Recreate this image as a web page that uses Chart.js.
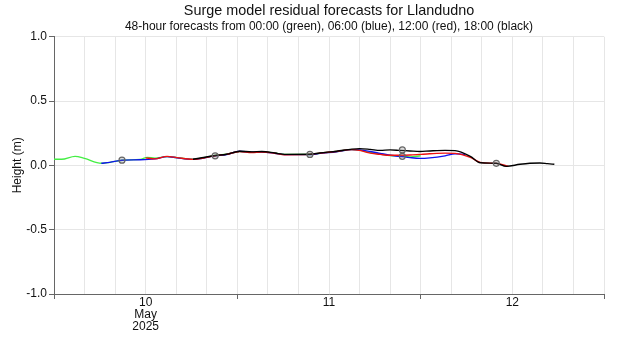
<!DOCTYPE html>
<html>
<head>
<meta charset="utf-8">
<script src="https://cdn.jsdelivr.net/npm/chart.js@4/dist/chart.umd.min.js"></script>
<style>
  html, body { margin: 0; padding: 0; background: #fff; }
  #wrap { width: 620px; height: 350px; }
</style>
</head>
<body>
<div id="wrap"><canvas id="surgeChart" width="620" height="350"></canvas></div>
<script>
// horas desde 10 May 2025 00:00, residual em metros
const greenHours = [0, 1, 2.75, 4, 6.2, 7.3, 8.9, 11.3, 12.2, 13.2, 14.8, 16.1, 18.2, 21.1, 22.6, 24.3, 25.9, 27.2, 28.9, 30.2, 33.5, 34.8, 37, 39, 40, 41.4, 42.7, 44, 45.3, 46.6, 48];
const greenValues = [0.047, 0.047, 0.07, 0.054, 0.016, 0.023, 0.04, 0.046, 0.062, 0.055, 0.068, 0.06, 0.048, 0.076, 0.086, 0.108, 0.104, 0.106, 0.096, 0.085, 0.084, 0.094, 0.108, 0.122, 0.118, 0.1, 0.088, 0.076, 0.072, 0.066, 0.074];

const blueHours = [6.2, 7.3, 8.9, 11.3, 13.2, 14.8, 16.1, 18.2, 21.1, 22.6, 24.3, 25.9, 27.2, 28.9, 30.2, 33.5, 34.8, 37, 39, 40, 41.4, 42.7, 44, 45.3, 46.6, 47.9, 49.2, 51.2, 52.5, 53.8];
const blueValues = [0.016, 0.023, 0.04, 0.043, 0.05, 0.068, 0.058, 0.046, 0.074, 0.084, 0.11, 0.102, 0.104, 0.094, 0.083, 0.083, 0.093, 0.106, 0.122, 0.12, 0.108, 0.093, 0.078, 0.07, 0.06, 0.054, 0.058, 0.074, 0.09, 0.085];

const redHours = [12, 13.2, 14.8, 16.1, 18.2, 21.1, 22.6, 24.3, 25.9, 27.2, 28.9, 30.2, 33.5, 34.8, 37, 39, 40, 41.4, 42.7, 44, 45.3, 46.6, 47.9, 49.2, 51.2, 52.5, 54.5, 55.8, 57.9, 59.5];
const redValues = [0.058, 0.05, 0.07, 0.06, 0.046, 0.075, 0.085, 0.108, 0.1, 0.104, 0.094, 0.082, 0.085, 0.095, 0.108, 0.122, 0.116, 0.095, 0.085, 0.078, 0.078, 0.08, 0.085, 0.09, 0.095, 0.093, 0.062, 0.023, 0.015, -0.008];

const blackHours = [18.2, 21.1, 22.6, 24.3, 25.9, 27.2, 28.9, 30.2, 33.5, 34.8, 37, 39, 40, 41.4, 42.7, 44, 45.3, 46.6, 47.9, 49.2, 51.2, 52.5, 54.5, 55.8, 57.9, 59.2, 61, 62.3, 63.6, 64.6, 65.5];
const blackValues = [0.047, 0.076, 0.086, 0.11, 0.105, 0.108, 0.096, 0.085, 0.086, 0.096, 0.11, 0.126, 0.13, 0.124, 0.116, 0.12, 0.116, 0.112, 0.108, 0.112, 0.116, 0.114, 0.07, 0.02, 0.016, -0.008, 0.008, 0.016, 0.018, 0.013, 0.008];

// marcadores circulares (preia-mar)
const markerHours = [8.9, 21.1, 33.5, 45.6, 45.6, 57.9];
const markerValues = [0.04, 0.074, 0.085, 0.12, 0.07, 0.016];

const dayTicks = [12, 36, 60];
const dayLabels = [['10', 'May', '2025'], ['11'], ['12']];
const yTicks = [-1, -0.5, 0, 0.5, 1];

const toPoints = (hs, vs) => hs.map((h, i) => ({ x: h, y: vs[i] }));

function serie(label, hs, vs, color) {
    return {
        label, data: toPoints(hs, vs), borderColor: color, backgroundColor: color,
        borderWidth: 1.4, pointRadius: 0, tension: 0.4, cubicInterpolationMode: 'monotone'
    };
}

const ctx = document.getElementById('surgeChart').getContext('2d');
new Chart(ctx, {
    type: 'line',
    data: {
        datasets: [
            {
                label: 'markers', data: toPoints(markerHours, markerValues), showLine: false,
                pointRadius: 3, pointBorderWidth: 1.2, pointBorderColor: '#666', pointBackgroundColor: 'rgba(120,120,120,0.25)', order: 0
            },
            Object.assign(serie('00:00', greenHours, greenValues, '#44ee44'), { order: 4 }),
            Object.assign(serie('06:00', blueHours, blueValues, '#1010ee'), { order: 3 }),
            Object.assign(serie('12:00', redHours, redValues, '#ee1010'), { order: 2 }),
            Object.assign(serie('18:00', blackHours, blackValues, '#000000'), { order: 1 })
        ]
    },
    options: {
        responsive: false,
        animation: false,
        layout: { padding: { right: 16, top: 2 } },
        plugins: {
            legend: { display: false },
            tooltip: { enabled: false },
            title: {
                display: true, fullSize: false, text: 'Surge model residual forecasts for Llandudno',
                color: '#111', font: { family: 'Liberation Sans, Arial', size: 14.4, weight: 'normal' },
                padding: { top: 0, bottom: 0 }
            },
            subtitle: {
                display: true, fullSize: false,
                text: '48-hour forecasts from 00:00 (green), 06:00 (blue), 12:00 (red), 18:00 (black)',
                color: '#111', font: { family: 'Liberation Sans, Arial', size: 12 },
                padding: { top: 0, bottom: 3 }
            }
        },
        scales: {
            x: {
                type: 'linear', min: 0, max: 72,
                afterBuildTicks: s => { s.ticks = []; for (let h = 0; h <= 72; h += 4) s.ticks.push({ value: h }); },
                afterFit: s => { s.height = 56; },
                border: { color: '#666', width: 1 },
                grid: {
                    color: '#e6e6e6', lineWidth: 1, tickLength: 5,
                    tickColor: c => (c.tick && c.tick.value % 24 === 0) ? '#666' : 'rgba(0,0,0,0)'
                },
                ticks: {
                    autoSkip: false, maxRotation: 0, padding: -2, color: '#111',
                    font: { family: 'Liberation Sans, Arial', size: 12, lineHeight: 1.0 },
                    callback: v => { const i = dayTicks.indexOf(v); return i >= 0 ? dayLabels[i] : ''; }
                }
            },
            y: {
                min: -1, max: 1,
                afterBuildTicks: s => { s.ticks = yTicks.map(v => ({ value: v })); },
                afterFit: s => { s.width = 54; },
                border: { color: '#666', width: 1 },
                grid: { color: '#e6e6e6', tickColor: '#666', tickLength: 5 },
                ticks: {
                    padding: 2, color: '#111',
                    font: { family: 'Liberation Sans, Arial', size: 12 },
                    callback: v => v.toFixed(1)
                },
                title: {
                    display: true, text: 'Height (m)', color: '#111', padding: { top: 10, bottom: 0 },
                    font: { family: 'Liberation Sans, Arial', size: 12 }
                }
            }
        }
    }
});
</script>
</body>
</html>
